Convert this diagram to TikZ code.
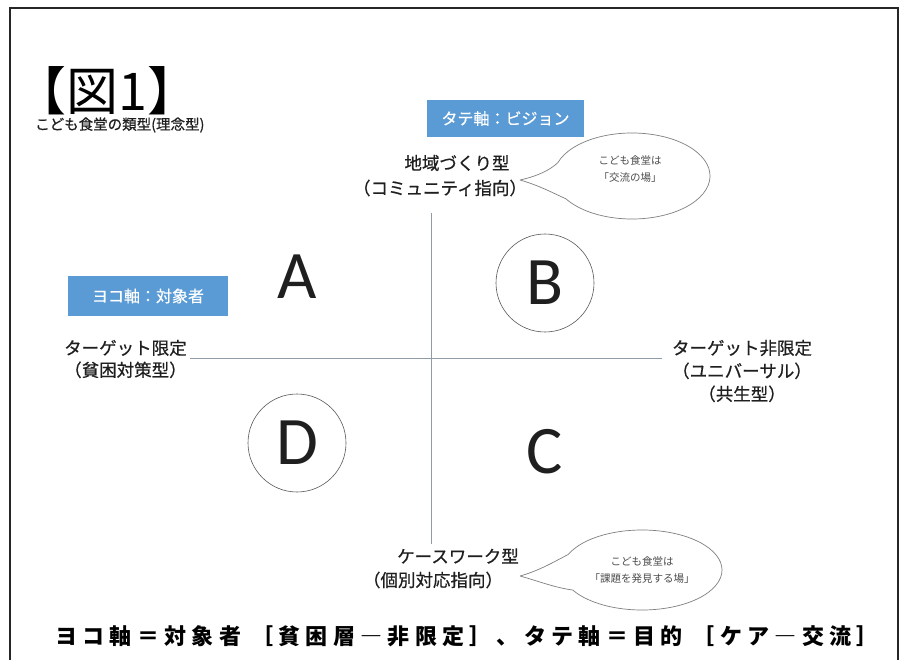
\documentclass[tikz,border=0pt]{standalone}
\usepackage{fontspec}
\setmainfont{Noto Sans CJK JP}
\newfontfamily\latinfont{Carlito}
\newfontfamily\medcjk[FakeBold=0.6]{Noto Sans CJK JP}
\newfontfamily\widecjk[LetterSpace=24]{Noto Sans CJK JP}
\usepackage{xcolor}
\definecolor{axisblue}{HTML}{5B9BD5}
\definecolor{linegray}{HTML}{8E9CA8}
\definecolor{textgray}{HTML}{1F1F1F}
\definecolor{bubblegray}{HTML}{7F7F7F}
\newcommand{\fsz}[2]{\fontsize{#1pt}{#2pt}\selectfont}

\begin{document}
\begin{tikzpicture}[x=1pt, y=-1pt,
    axisbox/.style={fill=axisblue, text=white, inner sep=0pt, font=\medcjk\fsz{16}{18}},
    axisline/.style={draw=linegray, line width=0.9pt},
    quadletter/.style={font=\latinfont\fsz{68}{68}, text=textgray, inner sep=0pt},
    quadcircle/.style={circle, draw=textgray!75, line width=0.6pt, minimum size=98pt},
    poletext/.style={font=\medcjk\fsz{17.5}{23}, text=textgray, inner sep=0pt},
    bubble/.style={draw=bubblegray, line width=0.7pt, fill=white},
    bubbletext/.style={font=\fsz{10.5}{17}, text=textgray!80, align=center, inner sep=0pt}]
    \useasboundingbox (0,0) rectangle (905,660);
    \fill[white] (0,0) rectangle (905,660);

    % frame
    \draw[line width=2.2pt, black!85] (10,664) -- (10,8) -- (898,8) -- (898,664);

    % title
    \node[anchor=west, inner sep=0pt] (title) at (14,91) {\fsz{52}{56}【図1】};
    \node[anchor=west, inner sep=0pt, text=textgray] (subtitle) at (35,125) {\medcjk\fsz{14.5}{16}こども食堂の類型(理念型)};

    % axis boxes
    \node[axisbox, minimum width=157pt, minimum height=37pt] (vbox) at (505.5,118.5) {タテ軸：ビジョン};
    \node[axisbox, minimum width=160pt, minimum height=40pt] (hbox) at (148,296) {ヨコ軸：対象者};

    % axes
    \coordinate (vtop) at (431,213);
    \coordinate (vbot) at (431,544);
    \coordinate (hleft) at (190,358);
    \coordinate (hright) at (662,358);
    \draw[axisline] (vtop) -- (vbot);
    \draw[axisline] (hleft) -- (hright);

    % pole labels
    \node[poletext] (north) at (457,163) {地域づくり型};
    \node[poletext] (northsub) at (440,188) {（コミュニティ指向）};
    \node[poletext] (south) at (458,556) {ケースワーク型};
    \node[poletext] (southsub) at (433,580) {（個別対応指向）};
    \node[poletext, align=left, anchor=west, font=\medcjk\fsz{17.5}{22}] (west) at (64,359) {ターゲット限定\\（貧困対策型）};
    \node[poletext, align=center] (east) at (742,371) {ターゲット非限定\\（ユニバーサル）\\（共生型）};

    % quadrants
    \node[quadletter] (A) at (297,277) {A};
    \node[quadletter, quadcircle] (B) at (545,283) {B};
    \node[quadletter] (C) at (545,452) {C};
    \node[quadletter, quadcircle] (D) at (297,443) {D};

    % speech bubbles
    \coordinate (nbub) at (632,176);
    \coordinate (ntip) at (520,180);
    \draw[bubble] (ntip) .. controls (538,176) and (550,170) .. ([shift={(198:78 and 43)}]nbub)
        arc[start angle=198, end angle=508, x radius=78, y radius=43]
        .. controls (553,193) and (538,185) .. (ntip);
    \node[bubbletext] (nbubtext) at (630,169) {こども食堂は\\「交流の場」};

    \coordinate (sbub) at (642,570);
    \coordinate (stip) at (520,576);
    \draw[bubble] (stip) .. controls (538,571) and (552,563) .. ([shift={(203:80 and 40)}]sbub)
        arc[start angle=203, end angle=510, x radius=80, y radius=40]
        .. controls (556,588) and (538,581) .. (stip);
    \node[bubbletext] (sbubtext) at (642,570) {こども食堂は\\「課題を発見する場」};

    % caption
    \node[inner sep=0pt] (caption) at (467,636) {\widecjk\bfseries\fsz{22}{26}ヨコ軸＝対象者 ［貧困層―非限定］、タテ軸＝目的 ［ケア―交流］};
\end{tikzpicture}
\end{document}
